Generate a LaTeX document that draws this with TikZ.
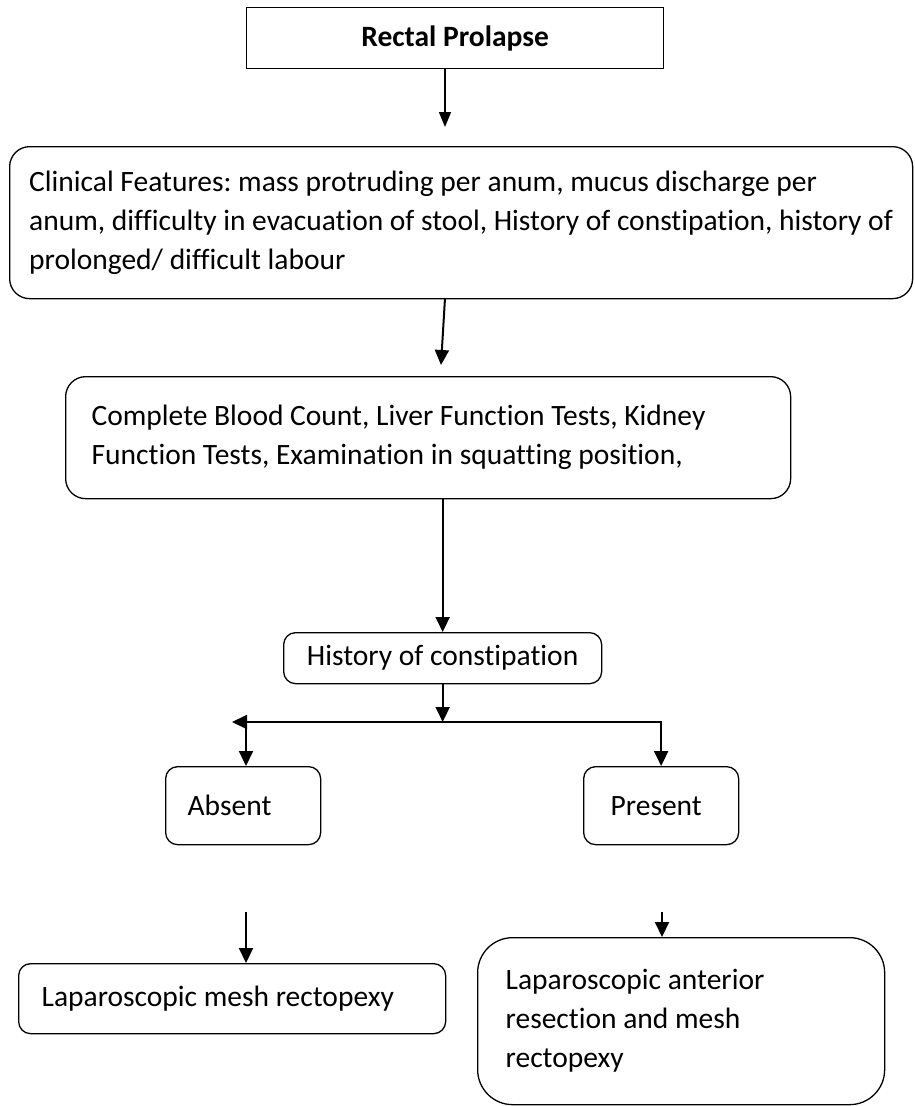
\documentclass[tikz,border=0pt]{standalone}
\usepackage{fontspec}
\setmainfont{Carlito}[Ligatures=NoCommon]
\usetikzlibrary{arrows.meta}
\newcommand\wordgap{\frenchspacing\spaceskip=0.226em plus 0.1em\xspaceskip=\spaceskip}
\tikzset{
box/.style={draw, line width=1.3pt, anchor=north west, align=left, font=\fontsize{29.5}{39}\selectfont, execute at begin node=\wordgap},
arr/.style={line width=2pt, -{Triangle[length=15pt, width=14pt]}}
}
\begin{document}
\begin{tikzpicture}[x=1pt, y=-1pt]
\useasboundingbox (0,0) rectangle (915,1106);
% boxes
\node[box, minimum width=417pt, minimum height=61pt, align=center, font=\fontsize{29.5}{39}\selectfont\bfseries] (rp) at (246,7) {Rectal Prolapse};
\node[box, rounded corners=20pt, minimum width=903pt, minimum height=152pt, inner xsep=0pt] (cf) at (9,146) {Clinical Features: mass protruding per anum, mucus discharge per\\anum, difficulty in evacuation of stool, History of constipation, history of\\prolonged/ difficult labour};
\node[box, rounded corners=20pt, minimum width=725pt, minimum height=122pt, inner xsep=26pt, text width=673pt] (inv) at (65,376) {Complete Blood Count, Liver Function Tests, Kidney\\Function Tests, Examination in squatting position,};
\node[box, rounded corners=12pt, minimum width=318pt, minimum height=51pt, align=center] (hoc) at (283,632) {History of constipation};
\node[box, rounded corners=12pt, minimum width=155pt, minimum height=78pt, inner xsep=22pt, text width=111pt] (abs) at (165,766) {Absent};
\node[box, rounded corners=12pt, minimum width=155pt, minimum height=78pt, inner xsep=27pt, text width=101pt] (pres) at (583,766) {Present};
\node[box, rounded corners=12pt, minimum width=427pt, minimum height=70pt, inner xsep=23pt, text width=381pt] (lmr) at (18,963) {Laparoscopic mesh rectopexy};
\node[box, rounded corners=35pt, minimum width=407pt, minimum height=167pt, inner xsep=28pt, text width=351pt] (lar) at (477,937) {Laparoscopic anterior\\resection and mesh\\rectopexy};
% free ends
\coordinate (a1) at (445,127);
\coordinate (a2s) at (445,298);
\coordinate (a2e) at (441,365);
\coordinate (split) at (hoc.south |- 0,722);
\coordinate (lend) at (232,722);
\coordinate (ls) at (246,722);
\coordinate (ab) at (246,912);
\coordinate (pb) at (662,912);
% arrows
\draw[line width=1.5pt, -{Triangle[length=15pt, width=12pt]}] (rp.south -| a1) -- (a1);
\draw[arr] (a2s) -- (a2e);
\draw[arr] (inv.south -| hoc.north) -- (hoc.north);
\draw[arr] (hoc.south) -- (split);
\draw[arr] (split) -- (lend);
\draw[arr] (ls) -- (ls |- abs.north);
\draw[arr] (split) -- (split -| pres.north) -- (pres.north);
\draw[arr] (ab) -- (ab |- lmr.north);
\draw[arr] (pb) -- (pb |- lar.north);
\end{tikzpicture}
\end{document}
